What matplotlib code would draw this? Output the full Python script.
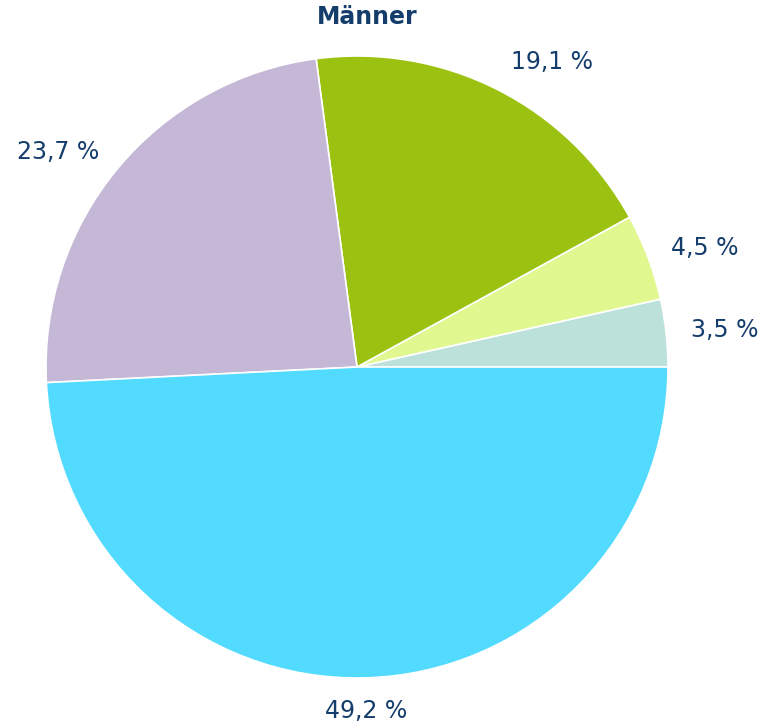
"""Anteile Männer – Tortendiagramm."""

import numpy as np
import matplotlib.pyplot as plt

plt.rcParams["font.family"] = ["DejaVu Sans"]

# ---- Daten (gegen den Uhrzeigersinn ab 3 Uhr) ----
shares = [3.5, 4.5, 19.1, 23.7, 49.2]
labels = ["3,5 %", "4,5 %", "19,1 %", "23,7 %", "49,2 %"]
colors = ["#BCE1DB", "#E1F78F", "#9BC211", "#C5B7D6", "#52DBFF"]
title = "Männer"

text_col = "#143D6B"

W, H = 765, 725
fig = plt.figure(figsize=(W / 100, H / 100), dpi=100)

# Kreis: Mitte (357, 367) px, Radius 311 px
cx, cy, r = 357, 367, 311
ax = fig.add_axes([(cx - r) / W, (H - cy - r) / H, 2 * r / W, 2 * r / H])

wedges, _ = ax.pie(shares, colors=colors, startangle=0, counterclock=True,
                   radius=1.0, wedgeprops=dict(edgecolor="white", linewidth=1.2))
ax.set_xlim(-1, 1)
ax.set_ylim(-1, 1)
ax.set_aspect("equal")
ax.axis("off")

# Beschriftungen außerhalb der Segmente
for w, lab in zip(wedges, labels):
    mid = np.deg2rad((w.theta1 + w.theta2) / 2)
    s, c = np.sin(mid), np.cos(mid)
    if s > 0.7:
        dist = 1.10
    elif s < -0.9:
        dist = 1.105
    else:
        dist = 1.08
    x, y = dist * c, dist * s
    if abs(c) < 0.2:
        ha = "center"
    else:
        ha = "left" if c > 0 else "right"
    ax.text(x, y, lab, ha=ha, va="center", fontsize=17, color=text_col,
            clip_on=False)

fig.text(367 / W, 1 - 17 / H, title, ha="center", va="center",
         fontsize=17, fontweight="bold", color=text_col)

plt.savefig("out.png", dpi=100)
plt.close()
